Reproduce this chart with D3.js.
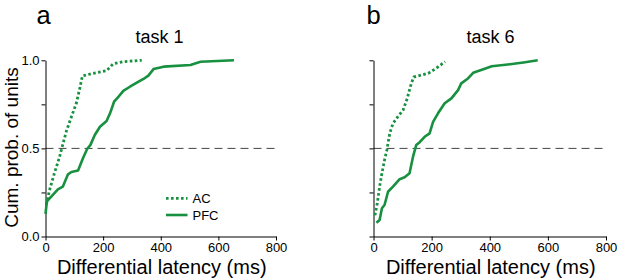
<!DOCTYPE html>
<html>
<head>
<meta charset="utf-8">
<script src="https://cdn.jsdelivr.net/npm/d3@7"></script>
<style>
  body { margin: 0; background: #fff; }
  svg { font-family: "Liberation Sans", Arial, sans-serif; }
</style>
</head>
<body>
<div id="chart"></div>
<script>
// [latency ms, cumulative probability]
const acTask1 = [[3,0.18],[14,0.264],[31,0.359],[49,0.453],[58,0.51],[72,0.595],[90,0.68],[107,0.756],[119,0.841],[128,0.911],[165,0.926],[212,0.941],[235,0.98],[270,0.992],[334,1.0]];
const pfcTask1 = [[0,0.128],[5,0.2],[20,0.226],[43,0.268],[60,0.283],[78,0.353],[90,0.366],[113,0.374],[130,0.444],[144,0.495],[156,0.52],[171,0.576],[189,0.623],[212,0.655],[224,0.699],[238,0.765],[253,0.793],[270,0.826],[293,0.85],[317,0.873],[340,0.894],[357,0.913],[375,0.95],[410,0.964],[503,0.973],[538,0.992],[654,1.0]];
const acTask6 = [[5,0.12],[13,0.188],[21,0.283],[29,0.359],[38,0.434],[46,0.491],[56,0.586],[67,0.642],[84,0.68],[102,0.718],[116,0.784],[130,0.869],[139,0.905],[188,0.926],[216,0.955],[246,0.992]];
const pfcTask6 = [[10,0.078],[21,0.094],[29,0.16],[38,0.179],[50,0.254],[67,0.283],[90,0.325],[107,0.336],[124,0.359],[136,0.453],[147,0.519],[159,0.535],[176,0.566],[193,0.585],[205,0.651],[222,0.699],[245,0.756],[268,0.784],[291,0.831],[302,0.869],[325,0.897],[343,0.929],[378,0.949],[407,0.966],[470,0.978],[516,0.988],[565,1.0]];

const xTicks = [0, 200, 400, 600, 800];
const yTicks = [0, 0.25, 0.5, 0.75, 1];
const yLabels = {0: "0.0", 0.5: "0.5", 1: "1.0"};
const legendNames = ["AC", "PFC"];

const green = "#17903f";

const svg = d3.select("#chart").append("svg")
    .attr("width", 617)
    .attr("height", 279);

function drawPanel(opts) {
    const x = d3.scaleLinear().domain([0, 800]).range([opts.x0, opts.x1]);
    const y = d3.scaleLinear().domain([0, 1]).range([236.5, 60.3]);

    // reference line at 0.5
    svg.append("line")
        .attr("x1", x(0)).attr("x2", x(800))
        .attr("y1", y(0.5)).attr("y2", y(0.5))
        .attr("stroke", "#444")
        .attr("stroke-width", 1)
        .attr("stroke-dasharray", "8,5");

    const xAxis = svg.append("g")
        .attr("transform", `translate(0,${y(0)})`)
        .call(d3.axisBottom(x).tickValues(xTicks).tickSize(4).tickPadding(2).tickSizeOuter(0));
    xAxis.selectAll("text").style("font-size", "13px").attr("fill", "#000");

    const yAxis = svg.append("g")
        .attr("transform", `translate(${x(0)},0)`)
        .call(d3.axisLeft(y).tickValues(yTicks).tickSize(4).tickPadding(2).tickSizeOuter(0)
            .tickFormat(d => opts.yLabels ? (yLabels[d] || "") : ""));
    yAxis.selectAll("text").style("font-size", "13px").attr("fill", "#000");

    svg.selectAll(".domain").attr("stroke", "#000");

    const line = d3.line().x(d => x(d[0])).y(d => y(d[1]));

    svg.append("path")
        .datum(opts.ac)
        .attr("d", line)
        .attr("fill", "none")
        .attr("stroke", green)
        .attr("stroke-width", 2.8)
        .attr("stroke-dasharray", "2.6,2.4");

    svg.append("path")
        .datum(opts.pfc)
        .attr("d", line)
        .attr("fill", "none")
        .attr("stroke", green)
        .attr("stroke-width", 2.6)
        .attr("stroke-linejoin", "round");

    svg.append("text")
        .attr("x", (opts.x0 + opts.x1) / 2 + 1)
        .attr("y", 273.5)
        .attr("text-anchor", "middle")
        .style("font-size", "20px")
        .text("Differential latency (ms)");

    svg.append("text")
        .attr("x", opts.titleX)
        .attr("y", 42.5)
        .attr("text-anchor", "middle")
        .style("font-size", "18px")
        .text(opts.title);

    svg.append("text")
        .attr("x", opts.letterX)
        .attr("y", 23.5)
        .style("font-size", "25.5px")
        .text(opts.letter);

    return x;
}

drawPanel({x0: 45.5, x1: 276, ac: acTask1, pfc: pfcTask1, yLabels: true,
    title: "task 1", titleX: 159.5, letter: "a", letterX: 36.5});
drawPanel({x0: 373.5, x1: 606, ac: acTask6, pfc: pfcTask6, yLabels: false,
    title: "task 6", titleX: 490.5, letter: "b", letterX: 366.5});

svg.append("text")
    .attr("transform", "translate(17.5,147.5) rotate(-90)")
    .attr("text-anchor", "middle")
    .style("font-size", "19px")
    .text("Cum. prob. of units");

// legend
const legend = svg.append("g");
legendNames.forEach((name, i) => {
    const ly = 198.3 + i * 16.7;
    legend.append("line")
        .attr("x1", 166).attr("x2", 187.5)
        .attr("y1", ly).attr("y2", ly)
        .attr("stroke", green)
        .attr("stroke-width", i === 0 ? 2.8 : 2.6)
        .attr("stroke-dasharray", i === 0 ? "2.6,2.4" : null);
    legend.append("text")
        .attr("x", 192.5)
        .attr("y", ly + 4.5)
        .style("font-size", "13px")
        .text(name);
});
</script>
</body>
</html>
